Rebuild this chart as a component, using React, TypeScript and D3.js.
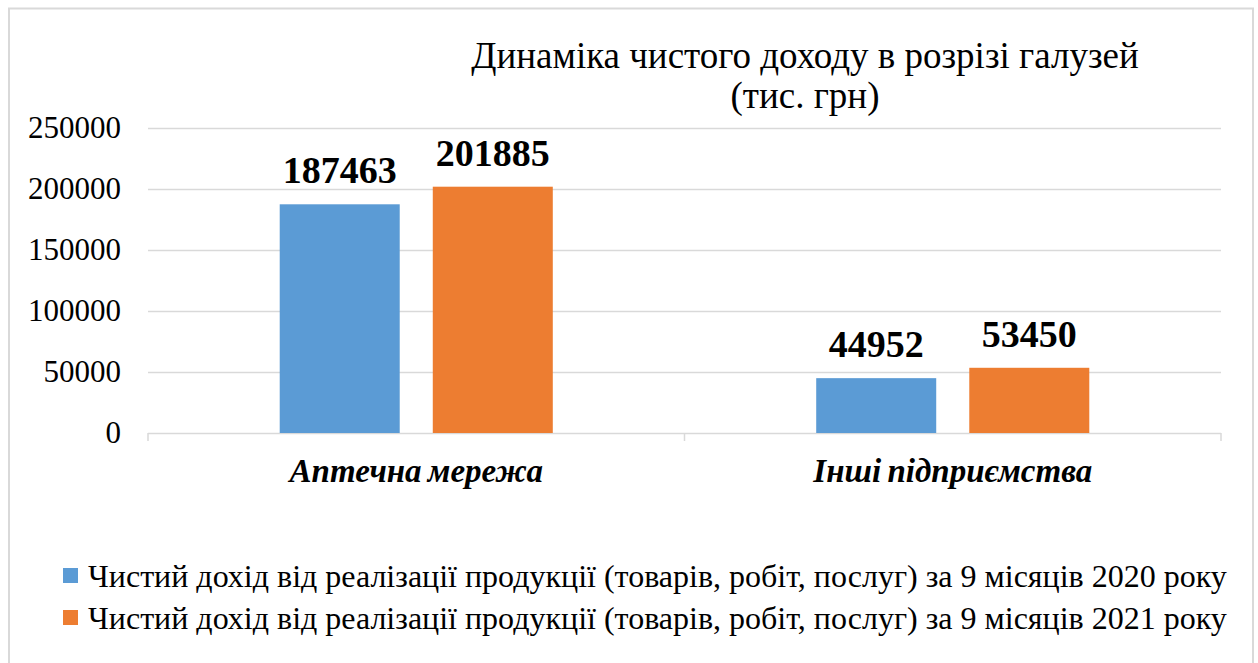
import * as d3 from 'd3';

const categories = ['Аптечна мережа', 'Інші підприємства'];
const seriesNames = [
  'Чистий дохід від реалізації продукції (товарів, робіт, послуг) за 9 місяців 2020 року',
  'Чистий дохід від реалізації продукції (товарів, робіт, послуг) за 9 місяців 2021 року',
];
const values2020 = [187463, 44952];
const values2021 = [201885, 53450];
const yTicks = [0, 50000, 100000, 150000, 200000, 250000];
const colors = ['#5B9BD5', '#ED7D31'];

const W = 1258;
const H = 663;
const FONT = '"Liberation Serif", "Times New Roman", serif';

const plot = { left: 148, right: 1221, top: 128, bottom: 433 };

export default function App() {
  const x0 = d3
    .scaleBand<string>()
    .domain(categories)
    .range([plot.left, plot.right])
    .padding(0);

  const bw = x0.bandwidth();
  // two bars per category, centred in the band
  const x1 = d3
    .scaleBand<number>()
    .domain([0, 1])
    .range([bw * 0.2455, bw * 0.7545])
    .paddingInner(0.216)
    .paddingOuter(0);

  const y = d3
    .scaleLinear()
    .domain([0, 250000])
    .range([plot.bottom, plot.top]);

  const series = [values2020, values2021];

  return (
    <svg
      width={W}
      height={H}
      fontFamily={FONT}
      style={{ position: 'absolute', left: 0, top: 0 }}
    >
      <rect x={0} y={0} width={W} height={H} fill="white" />
      <rect
        x={9}
        y={8.5}
        width={1244}
        height={700}
        fill="white"
        stroke="#D9D9D9"
        strokeWidth={2}
      />

      {/* title */}
      <text x={805} y={68} textAnchor="middle" fontSize={37} fill="#000">
        Динаміка чистого доходу в розрізі галузей
      </text>
      <text x={805} y={108} textAnchor="middle" fontSize={37} fill="#000">
        (тис. грн)
      </text>

      {/* gridlines + y labels */}
      {yTicks.map((t) => (
        <g key={t}>
          {t > 0 && (
            <line
              x1={plot.left}
              x2={plot.right}
              y1={Math.round(y(t)) + 0.5}
              y2={Math.round(y(t)) + 0.5}
              stroke="#D9D9D9"
              strokeWidth={1.3}
            />
          )}
          <text
            x={121}
            y={y(t) + 10}
            textAnchor="end"
            fontSize={31}
            fill="#000"
          >
            {t}
          </text>
        </g>
      ))}

      {/* category axis */}
      <line
        x1={plot.left}
        x2={plot.right}
        y1={plot.bottom + 0.5}
        y2={plot.bottom + 0.5}
        stroke="#D9D9D9"
        strokeWidth={1.5}
      />
      {[plot.left, plot.left + bw, plot.right].map((v, i) => (
        <line
          key={i}
          x1={v}
          x2={v}
          y1={plot.bottom}
          y2={plot.bottom + 8}
          stroke="#D9D9D9"
          strokeWidth={1.5}
        />
      ))}

      {/* bars + value labels */}
      {categories.map((c, ci) =>
        series.map((vals, si) => {
          const bx = (x0(c) ?? 0) + (x1(si) ?? 0);
          const by = y(vals[ci]);
          return (
            <g key={c + si}>
              <rect
                x={bx}
                y={by}
                width={x1.bandwidth()}
                height={plot.bottom - by}
                fill={colors[si]}
              />
              <text
                x={bx + x1.bandwidth() / 2}
                y={by - 21}
                textAnchor="middle"
                fontSize={38}
                fontWeight="bold"
                fill="#000"
              >
                {vals[ci]}
              </text>
            </g>
          );
        })
      )}

      {/* category labels */}
      {categories.map((c) => (
        <text
          key={c}
          x={(x0(c) ?? 0) + bw / 2}
          y={482}
          textAnchor="middle"
          fontSize={33}
          fontWeight="bold"
          fontStyle="italic"
          wordSpacing={-2}
          fill="#000"
        >
          {c}
        </text>
      ))}

      {/* legend */}
      {seriesNames.map((s, i) => (
        <g key={s}>
          <rect x={63} y={568 + i * 42} width={15} height={15} fill={colors[i]} />
          <text x={88} y={587 + i * 42} fontSize={32} fill="#000">
            {s}
          </text>
        </g>
      ))}
    </svg>
  );
}
